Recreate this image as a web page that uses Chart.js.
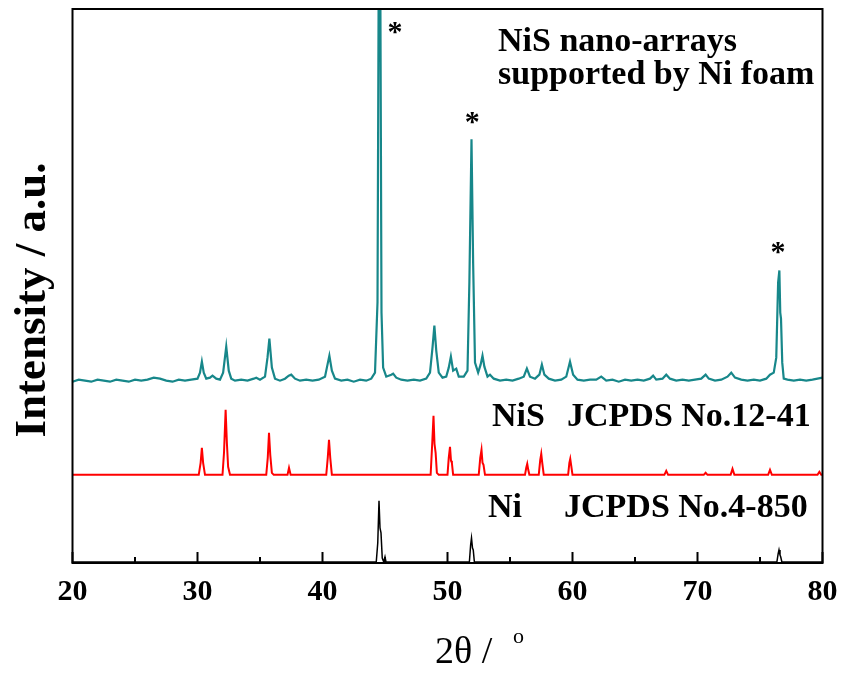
<!DOCTYPE html>
<html>
<head>
<meta charset="utf-8">
<script src="https://cdn.jsdelivr.net/npm/chart.js@4.4.0/dist/chart.umd.min.js"></script>
<style>
  html, body { margin: 0; padding: 0; background: #fff; }
  #wrap { width: 844px; height: 675px; position: relative; }
</style>
</head>
<body>
<div id="wrap"><canvas id="xrd"></canvas></div>
<script>
// 2theta axis
const thetaMin = 20;
const thetaMax = 80;
const thetaStep = 10;

// NiS nano-arrays on Ni foam (measured pattern), [2theta, intensity]
const nisFoam = [
  [20.0,181],[20.5,183],[21.0,182],[21.5,181],[22.0,183],[22.5,182],[23.0,181],[23.5,183],
  [24.0,182],[24.5,181],[25.0,183],[25.5,182],[26.0,183],[26.5,185],[27.0,184],[27.5,182],
  [28.0,181],[28.5,183],[29.0,182],[29.5,183],[30.0,184],[30.2,190],[30.35,201],[30.5,190],
  [30.7,184],[31.0,185],[31.2,187],[31.5,184],[31.8,183],[32.05,190],[32.3,216],[32.5,192],
  [32.7,184],[33.0,182],[33.5,183],[34.0,182],[34.5,184],[34.7,185],[35.0,183],[35.4,186],
  [35.6,205],[35.75,224],[35.95,195],[36.2,184],[36.6,182],[37.0,184],[37.3,187],[37.5,188],
  [37.8,184],[38.2,182],[38.7,183],[39.2,182],[39.7,183],[40.2,186],[40.4,198],[40.55,207],
  [40.75,192],[41.0,184],[41.5,182],[42.0,183],[42.5,181],[43.0,183],[43.5,182],[43.9,184],
  [44.2,190],[44.4,260],[44.5,600],[44.62,600],[44.72,250],[44.85,195],[45.1,186],[45.5,188],
  [45.65,189],[45.9,185],[46.3,183],[46.8,182],[47.3,183],[47.8,182],[48.3,184],[48.6,190],
  [48.8,215],[48.95,237],[49.1,212],[49.3,190],[49.6,185],[49.9,186],[50.1,195],[50.27,206],
  [50.45,192],[50.7,194],[50.9,186],[51.3,186],[51.6,192],[51.75,280],[51.92,423],[52.05,300],
  [52.2,200],[52.45,190],[52.65,198],[52.8,207],[52.95,196],[53.2,186],[53.4,188],[53.7,184],
  [54.2,182],[54.7,183],[55.2,182],[55.7,184],[56.1,186],[56.35,194],[56.6,186],[57.0,184],
  [57.35,188],[57.55,198],[57.75,188],[58.1,184],[58.6,182],[59.1,183],[59.5,186],[59.8,201],
  [60.05,188],[60.4,183],[60.9,182],[61.4,183],[61.9,183],[62.3,186],[62.7,182],[63.2,183],
  [63.7,181],[64.2,183],[64.7,182],[65.2,183],[65.7,182],[66.2,184],[66.45,187],[66.7,183],
  [67.2,184],[67.5,188],[67.8,184],[68.3,182],[68.8,183],[69.3,182],[69.8,183],[70.3,184],
  [70.65,188],[70.9,184],[71.4,182],[71.9,183],[72.4,186],[72.7,190],[73.0,185],[73.5,183],
  [74.0,182],[74.5,183],[75.0,182],[75.5,184],[75.8,188],[76.1,190],[76.3,205],[76.45,280],
  [76.55,292],[76.62,250],[76.68,244],[76.78,200],[76.9,184],[77.2,183],[77.7,182],[78.2,183],
  [78.7,182],[79.2,183],[79.6,184],[80.0,185]
];

// NiS reference, JCPDS No.12-41
const nisRef = [
  [20.0,88],[30.1,88],[30.25,100],[30.35,115],[30.45,100],[30.6,88],
  [32.0,88],[32.12,110],[32.25,153],[32.35,120],[32.45,96],[32.6,88],
  [35.5,88],[35.62,105],[35.72,130],[35.82,108],[35.95,90],[36.1,88],
  [37.2,88],[37.32,95],[37.45,88],
  [40.3,88],[40.42,105],[40.52,123],[40.62,105],[40.75,88],
  [48.65,88],[48.78,120],[48.88,147],[48.96,119],[49.05,110],[49.15,90],[49.3,88],
  [50.0,88],[50.1,105],[50.2,116],[50.28,102],[50.35,100],[50.45,88],
  [52.5,88],[52.62,105],[52.72,113],[52.8,100],[52.88,98],[53.0,88],
  [56.2,88],[56.3,95],[56.38,99],[56.46,93],[56.55,88],
  [57.3,88],[57.42,103],[57.5,109],[57.58,100],[57.7,88],
  [59.65,88],[59.75,100],[59.82,104],[59.9,97],[60.0,88],
  [67.35,88],[67.5,92],[67.65,88],
  [70.5,88],[70.65,90],[70.8,88],
  [72.65,88],[72.8,94],[72.95,88],
  [75.65,88],[75.8,93],[75.95,88],
  [79.6,88],[79.75,91],[79.9,88],[80.0,88]
];

// Ni reference, JCPDS No.4-850
const niRef = [
  [20.0,1],[44.3,1],[44.42,20],[44.52,62],[44.6,35],[44.68,30],[44.78,5],[44.9,1],
  [45.0,6],[45.08,1],[51.75,1],[51.85,18],[51.92,25],[52.0,15],[52.06,13],[52.15,1],
  [76.35,1],[76.45,9],[76.52,13],[76.6,8],[76.66,6],[76.75,1],[80.0,1]
];

// asterisks over the Ni foam reflections
const starTheta = [45.8, 51.98, 76.44];
const starLevel = [535, 445, 315];

const tealColor = '#17878a';
const serif = '"Liberation Serif", "Times New Roman", serif';

const toXY = arr => arr.map(([x, y]) => ({ x, y }));

const decorations = {
  id: 'decorations',
  afterDraw(chart) {
    const { ctx, chartArea: a, scales: { x, y } } = chart;
    ctx.save();
    ctx.strokeStyle = '#000';
    ctx.lineWidth = 2;
    ctx.strokeRect(a.left, a.top, a.right - a.left, a.bottom - a.top);

    // inward ticks on the bottom axis
    for (let t = thetaMin; t <= thetaMax; t += thetaStep / 2) {
      const px = x.getPixelForValue(t);
      const len = (t - thetaMin) % thetaStep === 0 ? 11 : 6;
      ctx.beginPath();
      ctx.moveTo(px, a.bottom);
      ctx.lineTo(px, a.bottom - len);
      ctx.stroke();
    }

    ctx.fillStyle = '#000';
    ctx.textBaseline = 'alphabetic';
    ctx.textAlign = 'left';

    // labels
    ctx.font = 'bold 34px ' + serif;
    ctx.fillText('NiS nano-arrays', 498, 51);
    ctx.fillText('supported by Ni foam', 498, 84);
    ctx.fillText('NiS', 492, 426);
    ctx.fillText('JCPDS No.12-41', 567, 426);
    ctx.fillText('Ni', 488, 517);
    ctx.fillText('JCPDS No.4-850', 564, 517);

    // asterisks
    ctx.font = 'bold 30px ' + serif;
    ctx.textAlign = 'center';
    starTheta.forEach((t, i) => {
      ctx.fillText('*', x.getPixelForValue(t), y.getPixelForValue(starLevel[i]) + 14);
    });

    // x title
    ctx.textAlign = 'left';
    ctx.font = '38px ' + serif;
    ctx.fillText('2\u03B8 /', 435, 663);
    ctx.font = '22px ' + serif;
    ctx.fillText('o', 513, 643);

    // y title
    ctx.save();
    ctx.translate(45, 300);
    ctx.rotate(-Math.PI / 2);
    ctx.textAlign = 'center';
    ctx.font = 'bold 45px ' + serif;
    ctx.fillText('Intensity / a.u.', 0, 0);
    ctx.restore();

    ctx.restore();
  }
};

new Chart(document.getElementById('xrd'), {
  type: 'line',
  data: {
    datasets: [
      { data: toXY(nisFoam), borderColor: tealColor, borderWidth: 2.2, pointRadius: 0, tension: 0 },
      { data: toXY(nisRef), borderColor: '#ff0000', borderWidth: 2, pointRadius: 0, tension: 0 },
      { data: toXY(niRef), borderColor: '#000000', borderWidth: 1.5, pointRadius: 0, tension: 0 }
    ]
  },
  options: {
    responsive: true,
    maintainAspectRatio: false,
    animation: false,
    layout: { padding: { left: 72.5, right: 21.5, top: 9, bottom: 54 } },
    plugins: { legend: { display: false }, tooltip: { enabled: false } },
    scales: {
      x: {
        type: 'linear', min: thetaMin, max: thetaMax,
        grid: { display: false, drawTicks: false },
        border: { display: false },
        ticks: { stepSize: thetaStep, padding: 11, color: '#000', font: { family: serif, size: 30, weight: 'bold' } },
        afterFit(scale) { scale.paddingLeft = 0; scale.paddingRight = 0; }
      },
      y: { min: 0, max: 553, display: false }
    }
  },
  plugins: [decorations]
});
</script>
</body>
</html>
